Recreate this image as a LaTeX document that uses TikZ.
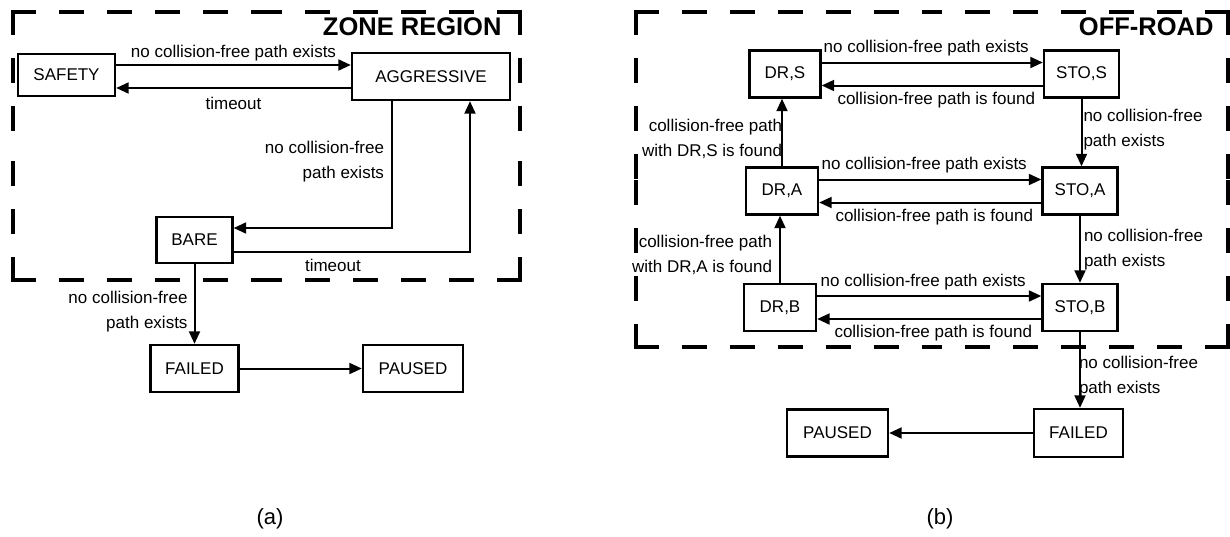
\documentclass[tikz,border=0pt]{standalone}
\usepackage{fontspec}
\setmainfont{Liberation Sans}
\usetikzlibrary{arrows.meta}

% dashed region frame: every side is drawn from both corners inwards
\newcommand\zoneframe[4]{%
  \draw[zone] (#1,#2) -- ({(#1+#3)/2},#2) (#3,#2) -- ({(#1+#3)/2},#2)
    (#3,#2) -- (#3,{(#2+#4)/2}) (#3,#4) -- (#3,{(#2+#4)/2})
    (#3,#4) -- ({(#1+#3)/2},#4) (#1,#4) -- ({(#1+#3)/2},#4)
    (#1,#4) -- (#1,{(#2+#4)/2}) (#1,#2) -- (#1,{(#2+#4)/2});}

\begin{document}
\begin{tikzpicture}[x=1pt, y=-1pt, font=\fontsize{17}{25}\selectfont,
  st/.style={draw, line width=2.4pt, inner sep=2pt, minimum height=47pt},
  arr/.style={-{Triangle[length=12.5pt, width=11pt]}, line width=2pt},
  lb/.style={inner sep=0pt},
  ttl/.style={font=\fontsize{25.5}{30}\selectfont\bfseries, anchor=base east},
  figcap/.style={font=\fontsize{22}{26}\selectfont},
  zone/.style={line width=3.4pt, line cap=rect, dash pattern=on 21pt off 27pt}]
\useasboundingbox (0,0) rectangle (1230,536);

% (a) zone region
\zoneframe{13}{12}{520}{280}
\node[ttl] (zoneT) at (505,35) {ZONE REGION};
\node[st, minimum width=97pt, minimum height=42pt] (safe) at (66.5,75) {SAFETY};
\node[st, minimum width=158pt] (aggr) at (431,76.5) {AGGRESSIVE};
\node[st, minimum width=76pt, minimum height=46pt] (bare) at (194.5,240) {BARE};
\node[st, minimum width=88pt] (failA) at (194.5,368.5) {FAILED};
\node[st, minimum width=100pt] (pauseA) at (413,368.5) {PAUSED};
\draw[arr] ([yshift=10pt]safe.east) -- ([yshift=11.5pt]aggr.west)
  node[midway, above=3pt, lb]{no collision-free path exists};
\draw[arr] ([yshift=-11.5pt]aggr.west) -- ([yshift=-13pt]safe.east)
  node[midway, below=8pt, lb]{timeout};
\draw[arr] ([xshift=-39pt]aggr.south) |- ([yshift=12pt]bare.east)
  node[pos=0.24, left=7pt, lb, align=right]{no collision-free\\path exists};
\draw[arr] ([yshift=-12pt]bare.east) -| ([xshift=39pt]aggr.south)
  node[pos=0.21, below=6pt, lb]{timeout};
\draw[arr] (bare.south) -- (failA.north)
  node[pos=0.6, left=6pt, lb, align=right]{no collision-free\\path exists};
\draw[arr] (failA.east) -- (pauseA.west);
\node[figcap] (capA) at (270,519) {(a)};

% (b) off-road
\zoneframe{636}{12}{1228}{347}
\node[ttl] (offT) at (1217,35) {OFF-ROAD};
\node[st, minimum width=71pt] (drs) at (785,74) {DR,S};
\node[st, minimum width=72pt] (dra) at (782,191) {DR,A};
\node[st, minimum width=72pt] (drb) at (780,307.5) {DR,B};
\node[st, minimum width=75pt] (stos) at (1081.5,74) {STO,S};
\node[st, minimum width=75pt] (stoa) at (1080,191) {STO,A};
\node[st, minimum width=75pt] (stob) at (1080,307.5) {STO,B};
\node[st, minimum width=89pt, minimum height=48pt] (failB) at (1078.5,433) {FAILED};
\node[st, minimum width=101pt] (pauseB) at (837.5,433) {PAUSED};

\draw[arr] ([yshift=11.5pt]drs.east) -- ([yshift=11.5pt]stos.west)
  node[midway, above=5pt, lb, xshift=-6pt]{no collision-free path exists};
\draw[arr] ([yshift=-11.5pt]stos.west) -- ([yshift=-11.5pt]drs.east)
  node[midway, below=5.5pt, lb, xshift=4pt]{collision-free path is found};
\draw[arr] ([yshift=11.5pt]dra.east) -- ([yshift=11.5pt]stoa.west)
  node[midway, above=5pt, lb, xshift=-6pt]{no collision-free path exists};
\draw[arr] ([yshift=-11.5pt]stoa.west) -- ([yshift=-11.5pt]dra.east)
  node[midway, below=5.5pt, lb, xshift=4pt]{collision-free path is found};
\draw[arr] ([yshift=11.5pt]drb.east) -- ([yshift=11.5pt]stob.west)
  node[midway, above=5pt, lb, xshift=-6pt]{no collision-free path exists};
\draw[arr] ([yshift=-11.5pt]stob.west) -- ([yshift=-11.5pt]drb.east)
  node[midway, below=5.5pt, lb, xshift=4pt]{collision-free path is found};

\draw[arr] (drb.north) -- (drb.north |- dra.south)
  node[pos=0.42, left=7pt, lb, align=right]{collision-free path\\with DR,A is found};
\draw[arr] (dra.north) -- (dra.north |- drs.south)
  node[pos=0.41, left=-1pt, lb, align=right]{collision-free path\\with DR,S is found};
\draw[arr] (stos.south) -- (stos.south |- stoa.north)
  node[pos=0.46, right=1pt, lb, align=left]{no collision-free\\path exists};
\draw[arr] (stoa.south) -- (stoa.south |- stob.north)
  node[pos=0.51, right=3pt, lb, align=left]{no collision-free\\path exists};
\draw[arr] (stob.south) -- (stob.south |- failB.north)
  node[pos=0.59, right=-2pt, lb, align=left]{no collision-free\\path exists};
\draw[arr] (failB.west) -- (pauseB.east);
\node[figcap] (capB) at (940,519) {(b)};
\end{tikzpicture}
\end{document}
